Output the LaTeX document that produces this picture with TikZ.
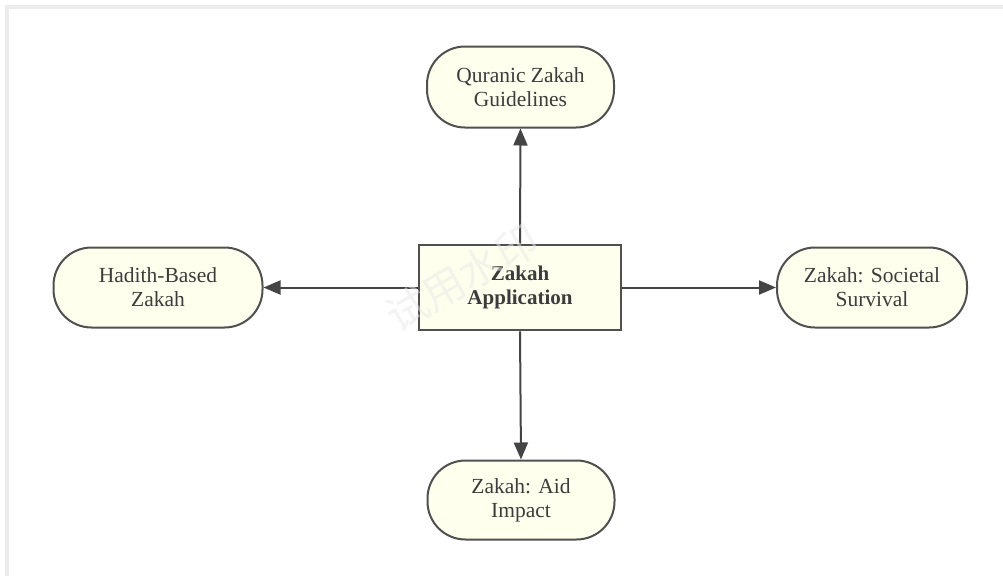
\documentclass[tikz,border=0pt]{standalone}
\usepackage{fontspec}
\setmainfont{Liberation Serif}
\newfontfamily\cjk{Noto Sans CJK SC}
\usetikzlibrary{arrows.meta}
\definecolor{nodefill}{RGB}{255,255,238}
\definecolor{nodeedge}{RGB}{80,80,80}
\definecolor{linkcol}{RGB}{68,68,68}
\definecolor{txt}{RGB}{60,60,60}
\definecolor{framecol}{RGB}{236,236,236}
\definecolor{wmark}{RGB}{232,232,232}
\tikzset{
  pill/.style={draw=nodeedge, line width=2pt, fill=nodefill, rounded corners=38pt,
    align=center, text=txt, inner sep=0pt,
    font=\fontsize{21.5pt}{24pt}\selectfont},
  hub/.style={draw=nodeedge, line width=2.6pt, fill=nodefill,
    align=center, text=txt, inner sep=0pt,
    font=\fontsize{21pt}{24pt}\selectfont\bfseries},
  link/.style={draw=linkcol, line width=2pt, -{Triangle[length=17pt,width=14pt]}}
}
\begin{document}
\begin{tikzpicture}[x=1pt,y=-1pt]
\useasboundingbox (0,0) rectangle (1003,576);
\fill[white] (0,0) rectangle (1003,576);
% frame
\fill[framecol] (5,5) rectangle (1003,9);
\fill[framecol] (5,5) rectangle (9,576);
% nodes
\node[hub, minimum width=202pt, minimum height=85pt] (hub) at (520,287.5) {Zakah\\Application};
\node[pill, minimum width=187pt, minimum height=81pt] (quran) at (520.5,87) {Quranic Zakah\\Guidelines};
\node[pill, minimum width=209pt, minimum height=80pt] (hadith) at (158,287.5) {Hadith-Based\\Zakah};
\node[pill, minimum width=190pt, minimum height=80pt] (society) at (872,287.5) {Zakah: Societal\\Survival};
\node[pill, minimum width=187pt, minimum height=79pt] (aid) at (521,500) {Zakah: Aid\\Impact};
% connectors
\draw[link] (hub.north) -- (quran.south);
\draw[link] (hub.west) -- (hadith.east);
\draw[link] (hub.east) -- (society.west);
\draw[link] (hub.south) -- (aid.north);
% watermark
\node[text=wmark, rotate=30, font=\cjk\fontsize{42pt}{42pt}\selectfont, opacity=0.5] (wm) at (462,278) {试用水印};
\end{tikzpicture}
\end{document}
